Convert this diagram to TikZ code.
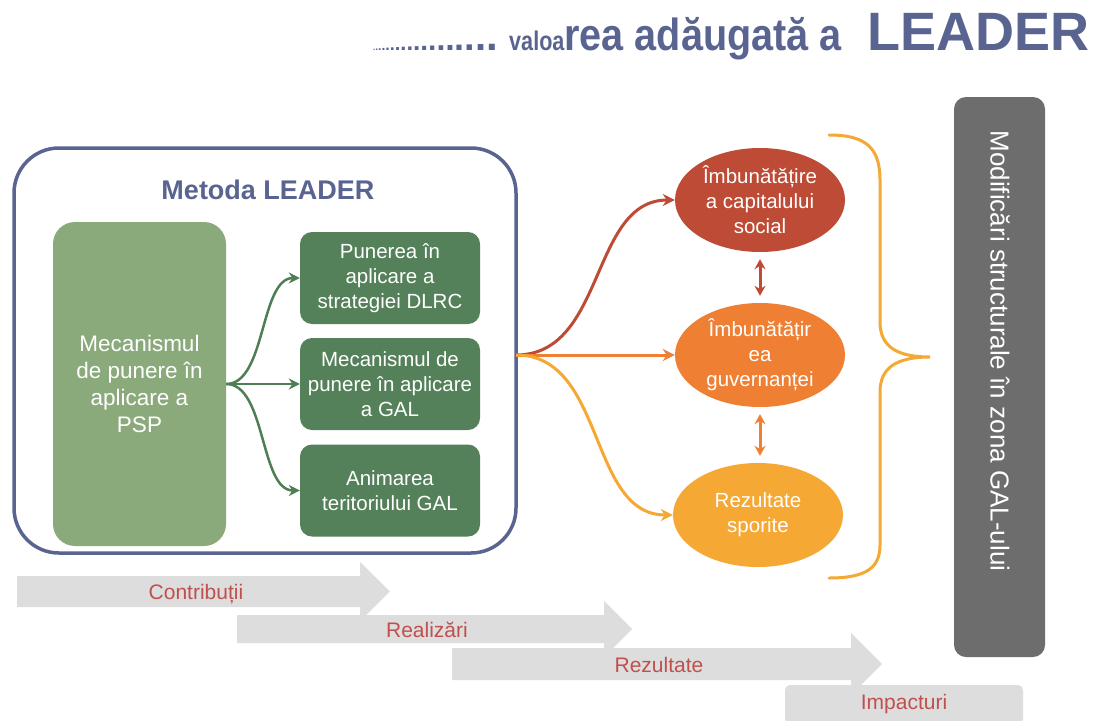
\documentclass[tikz,border=0pt]{standalone}
\usepackage{fontspec}
\setmainfont{Liberation Sans}
\usetikzlibrary{arrows.meta,shapes.geometric}
\definecolor{leaderblue}{HTML}{5A6491}
\definecolor{lightgreen}{HTML}{8BAA7C}
\definecolor{darkgreen}{HTML}{548159}
\definecolor{arrowgreen}{HTML}{4F7E55}
\definecolor{redbrown}{HTML}{BE4B35}
\definecolor{midorange}{HTML}{EE7F33}
\definecolor{lightorange}{HTML}{F5A833}
\definecolor{boxgray}{HTML}{6D6D6D}
\definecolor{bandgray}{HTML}{DDDDDD}
\definecolor{bandtext}{HTML}{C0504D}
\newcommand\tdot[1]{{\fontsize{#1}{#1}\selectfont.}}
\newcommand\fsz[2]{\fontsize{#1}{#2}\selectfont}
\tikzset{
  mainbox/.style={draw=leaderblue, line width=3.5pt, rounded corners=45pt, minimum width=502pt, minimum height=405pt},
  pspbox/.style={fill=lightgreen, rounded corners=22pt, minimum width=173pt, minimum height=324pt, text=white, align=center, font=\fsz{22.5}{27}},
  subbox/.style={fill=darkgreen, rounded corners=12pt, minimum width=180pt, minimum height=92pt, text=white, align=center, font=\fsz{20.5}{25}, inner sep=2pt},
  effect/.style={ellipse, minimum width=170pt, minimum height=104pt, inner sep=0pt, text=white, align=center, font=\fsz{20.5}{25}},
  garrow/.style={draw=arrowgreen, line width=2.5pt, -{Stealth[length=11pt,width=11pt]}},
  oarrow/.style={line width=3pt, -{Stealth[length=12pt,width=12pt]}},
  darrow/.style={line width=3pt, {Stealth[length=10pt,width=11pt]}-{Stealth[length=10pt,width=11pt]}},
  bandlabel/.style={text=bandtext, font=\fsz{21}{25}},
}
\begin{document}
\begin{tikzpicture}[x=1pt,y=-1pt]
\useasboundingbox (0,0) rectangle (1099,720);
\fill[white] (0,0) rectangle (1099,720);

% title
\node[anchor=base west, inner sep=0pt, text=leaderblue, font=\bfseries] (title) at (373,50)
 {\tdot{8}\tdot{10}\tdot{12}\tdot{14}\tdot{16}\tdot{18}\tdot{20}\tdot{22}\tdot{24}\tdot{26}\tdot{28}\tdot{30}\tdot{32}\tdot{34}\tdot{36}\tdot{38}\tdot{40}\tdot{42}\hspace{11pt}\scalebox{0.8}[1]{\fsz{27}{30}valoa}\scalebox{0.88}[1]{\fsz{45}{50}rea adăugată a}\hspace{26pt}{\fsz{54}{60}LEADER}};

% bottom bands
\fill[bandgray] (17,576) -- (360,576) -- (360,562) -- (390,591.5) -- (360,621) -- (360,607) -- (17,607) -- cycle;
\fill[bandgray] (237,615) -- (604,615) -- (604,601) -- (632,629) -- (604,657) -- (604,643) -- (237,643) -- cycle;
\fill[bandgray] (452,648) -- (851,648) -- (851,633) -- (882,664) -- (851,695) -- (851,680) -- (452,680) -- cycle;
\fill[bandgray, rounded corners=5pt] (785,685) rectangle (1023,724);
\node[bandlabel] (contrib) at (196,594) {Contribuții};
\node[bandlabel] (realiz) at (427,630) {Realizări};
\node[bandlabel] (rezult) at (659,665) {Rezultate};
\node[bandlabel] (impact) at (904,704) {Impacturi};

% LEADER method box
\node[mainbox] (method) at (265,350.5) {};
\node[text=leaderblue, font=\bfseries\fsz{27}{32}] (mtitle) at (268,190) {Metoda LEADER};
\node[pspbox] (psp) at (139.5,384) {Mecanismul\\de punere în\\aplicare a\\PSP};
\node[subbox] (b1) at (390,278) {Punerea în\\aplicare a\\strategiei DLRC};
\node[subbox] (b2) at (390,384) {Mecanismul de\\punere în aplicare\\a GAL};
\node[subbox] (b3) at (390,490.5) {Animarea\\teritoriului GAL};
\draw[garrow] (psp.east) .. controls +(40,0) and +(-40,0) .. (b1.west);
\draw[garrow] (psp.east) -- (b2.west);
\draw[garrow] (psp.east) .. controls +(40,0) and +(-40,0) .. (b3.west);

% effects
\node[effect, fill=redbrown] (e1) at (760,200) {Îmbunătățire\\a capitalului\\social};
\node[effect, fill=midorange] (e2) at (760,355) {Îmbunătățir\\ea\\guvernanței};
\node[effect, fill=lightorange] (e3) at (758,515) {Rezultate\\sporite};
\coordinate (src) at (516,355);
\draw[oarrow, draw=redbrown] (src) .. controls +(90,0) and +(-85,0) .. (e1.west);
\draw[oarrow, draw=midorange] (src) -- (e2.west);
\draw[oarrow, draw=lightorange] (src) .. controls +(90,0) and +(-85,0) .. (e3.west);
\draw[darrow, draw=redbrown] ([yshift=-7pt]e1.south) -- ([yshift=7pt]e2.north);
\draw[darrow, draw=midorange] ([yshift=-7pt]e2.south) -- ([yshift=7pt]e2.south |- e3.north);

% brace
\draw[lightorange, line width=3pt, line cap=round] (829,135) .. controls (866,135) and (880,148) .. (880,180) -- (880,322) .. controls (880,346) and (896,357) .. (930,357) .. controls (896,357) and (880,368) .. (880,392) -- (880,545) .. controls (880,568) and (866,578) .. (829,578);

% structural change box
\node[fill=boxgray, rounded corners=12pt, minimum width=91pt, minimum height=560pt] (struct) at (999.5,377) {};
\node[rotate=-90, text=white, font=\fsz{26}{30}] (structtext) at (1000,351) {Modificări structurale în zona GAL-ului};
\end{tikzpicture}
\end{document}
